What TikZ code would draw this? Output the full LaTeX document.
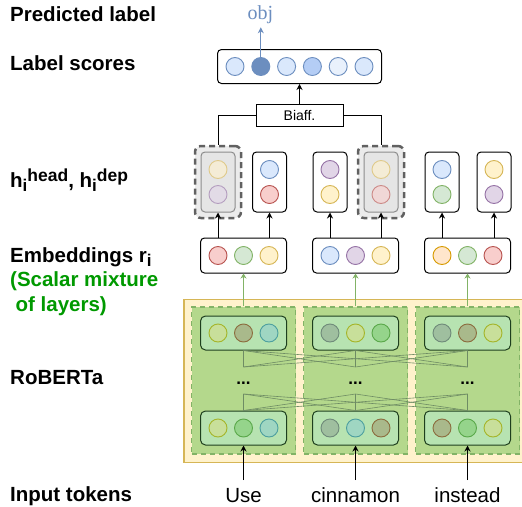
\documentclass[tikz,border=0pt]{standalone}
\usepackage{fontspec}
\setmainfont{Liberation Sans}
\newfontfamily\serifobj{Liberation Serif}
\usepackage{tikz}
\usetikzlibrary{arrows.meta,positioning,calc,fit}

\definecolor{blueF}{HTML}{DAE8FC}\definecolor{blueD}{HTML}{6C8EBF}
\definecolor{blueM}{HTML}{B4CDF5}\definecolor{blueL}{HTML}{E9F1FC}
\definecolor{redF}{HTML}{F8CECC}\definecolor{redD}{HTML}{B85450}
\definecolor{grnF}{HTML}{D5E8D4}\definecolor{grnD}{HTML}{82B366}
\definecolor{ylwF}{HTML}{FFF2CC}\definecolor{ylwD}{HTML}{D6B656}
\definecolor{purF}{HTML}{E1D5E7}\definecolor{purD}{HTML}{9673A6}
\definecolor{orgF}{HTML}{FFE6CC}\definecolor{orgD}{HTML}{D79B00}
\definecolor{mixgreen}{HTML}{009900}
\definecolor{colF}{HTML}{B4D88C}
\definecolor{lyrF}{HTML}{B7E3B1}\definecolor{lyrD}{HTML}{1E3F1E}
\definecolor{wireC}{HTML}{6E8C64}
\definecolor{rYF}{HTML}{C8DF9A}\definecolor{rYD}{HTML}{A5B52A}
\definecolor{rRF}{HTML}{A9B98B}\definecolor{rRD}{HTML}{8C6D3F}
\definecolor{rBF}{HTML}{9FD6C2}\definecolor{rBD}{HTML}{4D9F9F}
\definecolor{rPF}{HTML}{9FBF9F}\definecolor{rPD}{HTML}{6F8A7A}
\definecolor{rGF}{HTML}{95D48B}\definecolor{rGD}{HTML}{5AA84A}

\newcommand{\lsub}[1]{\raisebox{-3.7pt}{\fontsize{17}{17}\selectfont #1}}
\newcommand{\lsup}[1]{\raisebox{5.8pt}{\fontsize{17.5}{17}\selectfont #1}}

\tikzset{
  lbl/.style={anchor=base west,inner sep=0pt,font=\fontsize{20.5}{24}\selectfont\bfseries},
  word/.style={anchor=base,inner sep=0pt,font=\fontsize{20.5}{24}\selectfont},
  cell/.style={circle,draw,line width=0.9pt,minimum size=18pt,inner sep=0pt},
  cB/.style={cell,fill=blueF,draw=blueD}, cR/.style={cell,fill=redF,draw=redD},
  cG/.style={cell,fill=grnF,draw=grnD}, cY/.style={cell,fill=ylwF,draw=ylwD},
  cP/.style={cell,fill=purF,draw=purD}, cO/.style={cell,fill=orgF,draw=orgD},
  rY/.style={cell,fill=rYF,draw=rYD}, rR/.style={cell,fill=rRF,draw=rRD},
  rB/.style={cell,fill=rBF,draw=rBD}, rP/.style={cell,fill=rPF,draw=rPD},
  rG/.style={cell,fill=rGF,draw=rGD},
  vec/.style={draw,rounded corners=4pt,line width=1pt,fill=white,inner sep=0pt,minimum width=86pt,minimum height=35pt},
  hvec/.style={vec,minimum width=34pt,minimum height=60pt},
  greyvec/.style={hvec,fill=black!10,draw=black!45},
  dashbox/.style={draw=black!62,fill=black!8,dash pattern=on 6pt off 4pt,line width=2.5pt,rounded corners=6pt,minimum width=46pt,minimum height=72pt},
  column/.style={draw=grnD,fill=colF,line width=1.5pt,dash pattern=on 5pt off 4pt,minimum width=104pt,minimum height=147pt},
  lyr/.style={vec,fill=lyrF,draw=lyrD,rounded corners=5pt,minimum height=34pt},
  wire/.style={wireC,line width=0.6pt},
  arr/.style={-{Stealth[length=6pt,width=6pt]},line width=1pt},
  garr/.style={-{Stealth[length=5pt,width=6pt]},grnD,line width=0.9pt},
}

\begin{document}
\begin{tikzpicture}[x=1pt,y=-1pt]
\useasboundingbox (0,0) rectangle (522,506);

\node[lbl] (tPred) at (10,21.5) {Predicted label};
\node[lbl] (tScore) at (10,70) {Label scores};
\node[lbl] (tHid) at (10,187.3) {h\lsub{i}\lsup{head}, h\lsub{i}\lsup{dep}};
\node[lbl] (tEmb) at (10,262.3) {Embeddings r\lsub{i}};
\node[lbl,text=mixgreen] (tMix) at (10,286.7) {(Scalar mixture};
\node[lbl,text=mixgreen] (tMixB) at (15.5,311) {of layers)};
\node[lbl] (tRob) at (10,384) {RoBERTa};
\node[lbl] (tInp) at (10,501.7) {Input tokens};

% RoBERTa
\node[draw=ylwD,fill=ylwF,line width=1.5pt,minimum width=346pt,minimum height=163pt,inner sep=0pt,anchor=north west] (rob) at (183,298.5) {};
\foreach \x/\n in {243.5/1,355.5/2,467.5/3}{
  \node[column] (col\n) at (\x,380.5) {};
  \node[lyr] (tl\n) at (\x,333) {};
  \node[lyr] (bl\n) at (\x,428) {};
  \node[anchor=base,font=\fontsize{17}{20}\selectfont\bfseries] (dots\n) at (\x,384) {...};
  \coordinate (tb\n) at (\x,367);
  \coordinate (ba\n) at (\x,394);
}
\foreach \n/\a/\b/\c in {1/rY/rR/rB,2/rP/rY/rG,3/rP/rR/rY}{
  \node[\a] (t\n a) at ([xshift=-25.5pt]tl\n.center) {};
  \node[\b] (t\n b) at (tl\n.center) {};
  \node[\c] (t\n c) at ([xshift=25.5pt]tl\n.center) {};
}
\foreach \n/\a/\b/\c in {1/rY/rG/rB,2/rP/rB/rR,3/rR/rG/rY}{
  \node[\a] (b\n a) at ([xshift=-25.5pt]bl\n.center) {};
  \node[\b] (b\n b) at (bl\n.center) {};
  \node[\c] (b\n c) at ([xshift=25.5pt]bl\n.center) {};
}
\foreach \i in {1,2,3}{
  \foreach \j in {1,2,3}{
    \draw[wire] (tl\i.south) -- (tb\j);
    \draw[wire] (ba\i) -- (bl\j.north);
  }
}
\foreach \x/\n/\w in {243.5/1/Use,355.5/2/cinnamon,467.5/3/instead}{
  \node[word] (w\n) at (\x,502.5) {\w};
  \coordinate (in\n) at (\x,480);
  \draw[arr] (in\n) -- (bl\n.south);
}

% embeddings
\foreach \x/\n/\a/\b/\c in {243.5/1/cR/cG/cY,355.5/2/cB/cP/cY,467.5/3/cO/cG/cR}{
  \node[vec] (e\n) at (\x,255.5) {};
  \node[\a] (e\n a) at ([xshift=-25.5pt]e\n.center) {};
  \node[\b] (e\n b) at (e\n.center) {};
  \node[\c] (e\n c) at ([xshift=25.5pt]e\n.center) {};
  \draw[garr] (col\n.north) -- (e\n.south);
}

% head / dep
\node[dashbox] (d1) at (218,182) {};
\node[dashbox] (d4) at (381,182) {};
\foreach \x/\n/\s/\o/\a/\b in {218/1/greyvec/0.6/cY/cP,269.5/2/hvec/1/cB/cR,330/3/hvec/1/cP/cY,381/4/greyvec/0.6/cY/cR,442/5/hvec/1/cB/cG,494/6/hvec/1/cY/cP}{
  \node[\s] (h\n) at (\x,182) {};
  \node[\a,opacity=\o] (h\n a) at ([yshift=12.5pt]h\n.center) {};
  \node[\b,opacity=\o] (h\n b) at ([yshift=-12.5pt]h\n.center) {};
}
\foreach \e/\h in {1/1,1/2,2/3,2/4,3/5,3/6}
  \draw[arr] (h\h.south |- e\e.north) -- (h\h.south);

% biaffine and scores
\node[vec,minimum width=164pt,minimum height=34pt] (score) at (299.5,66.5) {};
\foreach \i/\f in {1/blueF,2/blueD,3/blueF,4/blueM,5/blueL,6/blueF}
  \node[cell,draw=blueD,fill=\f] (s\i) at ({299.5+(\i-3.5)*25.8},66.5) {};
\node[draw,fill=white,line width=1pt,minimum width=87pt,minimum height=22pt,inner sep=0pt,font=\fontsize{14}{16}\selectfont] (biaff) at (299.5,115) {Biaff.};
\draw[arr] (biaff.north) -- (score.south);
\draw[line width=1pt] (biaff.west) -| (d1.north);
\draw[line width=1pt] (biaff.east) -| (d4.north);
\node[anchor=base,font=\serifobj\fontsize{20}{24}\selectfont,text=blueD] (obj) at (260.5,19.5) {obj};
\draw[arr,blueD] (s2.north) -- (s2.north |- obj.south);
\end{tikzpicture}
\end{document}
